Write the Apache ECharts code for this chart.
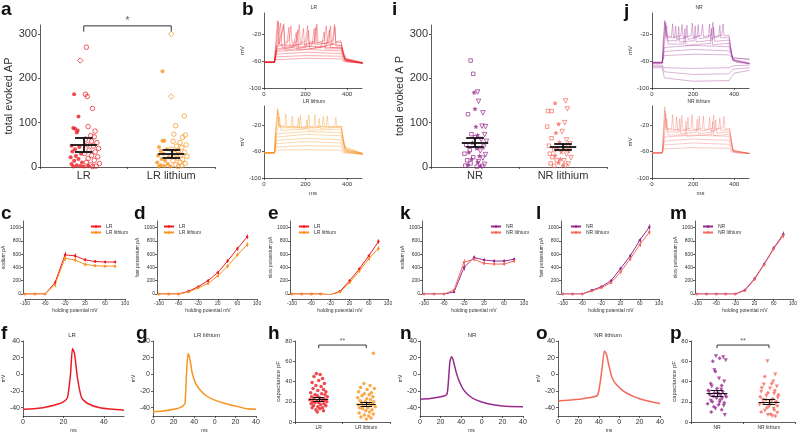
<!DOCTYPE html>
<html>
<head>
<meta charset="utf-8">
<script src="https://cdn.jsdelivr.net/npm/echarts@6/dist/echarts.min.js"></script>
<style>html,body{margin:0;background:#fff}#chart{width:800px;height:434px}</style>
</head>
<body>
<div id="chart"></div>
<script>
const RED = '#ec1c24', ORANGE = '#f7931e', PURPLE = '#962b8e', SALMON = '#f26a5c';
const FONT = '"Liberation Sans", Arial, sans-serif';
const STAR = 'path://M0,-1L0.29,-0.4L0.95,-0.31L0.48,0.15L0.59,0.81L0,0.5L-0.59,0.81L-0.48,0.15L-0.95,-0.31L-0.29,-0.4Z';

// ---- a: total evoked AP, [jitter, value]
const CAT_LR = ['LR', 'LR lithium'];
const CAT_NR = ['NR', 'NR lithium'];
const A_LR_FILLED = [[-0.11,164],[-0.06,114],[-0.1,86],[-0.07,82],[-0.08,78],[-0.12,88],[-0.14,48],[-0.05,45],[-0.1,40],[-0.13,35],[-0.03,30],[-0.09,25],[-0.15,22],[-0.06,18],[-0.11,14],[-0.02,10],[-0.14,7],[-0.08,4],[-0.04,2],[0.0,1],[-0.12,1],[0.05,3]];
const A_LR_OPEN = [[0.03,270],[0.02,164],[0.04,159],[0.1,132],[0.05,91],[0.13,81],[0.08,71],[0.12,68],[0.02,63],[0.09,58],[0.15,55],[0.04,50],[0.11,47],[0.17,42],[0.06,38],[0.13,34],[0.01,30],[0.09,26],[0.16,23],[0.05,19],[0.12,15],[0.03,11],[0.18,8],[0.08,5],[0.14,2],[0.1,1]];
const A_LR_DIAM = [[-0.04,240]];
const A_LRL_FILLED = [[-0.1,216],[-0.1,59],[-0.08,59],[-0.14,45],[-0.05,40],[-0.12,36],[-0.09,30],[-0.15,26],[-0.03,22],[-0.11,18],[-0.07,14],[-0.16,10],[-0.04,7],[-0.12,4],[-0.08,2],[-0.01,1],[-0.14,1]];
const A_LRL_OPEN = [[0.15,115],[0.05,93],[0.03,74],[0.16,72],[0.13,67],[0.02,58],[0.1,55],[0.17,50],[0.06,47],[0.12,44],[0.0,40],[0.08,37],[0.15,33],[0.04,30],[0.11,27],[0.18,24],[0.07,20],[0.13,17],[0.02,14],[0.1,11],[0.16,8],[0.05,5],[0.12,3],[0.08,1]];
const A_LRL_DIAM = [[0.0,300],[0.0,159]];
const A_ERR = [[50,34,66],[30,20,40]]; // mean, low, high

// ---- i: NR
const I_NR_SQ = [[-0.05,240],[-0.02,210],[-0.08,119],[-0.04,74],[0.0,67],[-0.1,50],[-0.06,38],[-0.12,30],[-0.02,22],[-0.09,15],[-0.05,8],[-0.11,3],[0.02,1]];
const I_NR_ST = [[-0.01,168],[0.0,131],[0.01,91],[0.03,72],[-0.03,55],[0.02,42],[-0.07,33],[0.05,25],[-0.04,18],[0.03,11],[-0.08,5],[0.06,2]];
const I_NR_TR = [[0.03,169],[0.04,148],[0.09,122],[0.08,92],[0.12,91],[0.11,73],[0.07,62],[0.13,58],[0.1,45],[0.06,36],[0.12,28],[0.09,20],[0.04,12],[0.11,6],[0.08,1]];
const I_NRL_SQ = [[-0.17,126],[-0.13,126],[-0.18,91],[-0.13,65],[-0.16,48],[-0.1,38],[-0.15,30],[-0.12,22],[-0.07,15],[-0.14,8],[-0.1,3]];
const I_NRL_ST = [[-0.09,144],[-0.05,97],[-0.08,77],[-0.04,56],[-0.06,43],[-0.02,34],[-0.09,26],[-0.03,18],[-0.05,10],[0.0,4]];
const I_NRL_TR = [[0.03,149],[0.05,131],[0.02,100],[-0.01,80],[0.04,61],[0.08,52],[0.02,45],[0.07,37],[0.04,29],[0.09,21],[0.01,14],[0.06,7],[0.03,2]];
const I_ERR = [[55,45,66],[46,40,53]];

// ---- b / j: voltage traces, [ms, mV]
const B_LR = [
  [[0,-62],[50,-62],[58,-58],[200,-56],[370,-57],[385,-61],[475,-63]],
  [[0,-62],[50,-62],[58,-54],[200,-52],[370,-53],[387,-60],[475,-63]],
  [[0,-62],[50,-62],[58,-50],[200,-47],[370,-49],[388,-59],[475,-63]],
  [[0,-62],[50,-62],[60,-46],[200,-43],[370,-45],[390,-58],[475,-63]],
  [[0,-62],[50,-62],[60,-42],[200,-38],[370,-41],[392,-57],[475,-63]],
  [[0,-61],[50,-61],[60,-38],[150,-36],[260,-33],[370,-37],[395,-56],[475,-62]],
  [[0,-62],[50,-62],[55,-40],[65,0],[70,-35],[80,-30],[95,-5],[100,-33],[120,-30],[130,-8],[135,-34],[160,-31],[170,-6],[175,-33],[200,-31],[210,-8],[215,-33],[245,-31],[255,-5],[260,-33],[290,-30],[300,-8],[305,-33],[330,-30],[340,-6],[345,-32],[370,-30],[385,-55],[400,-61],[475,-64]],
  [[0,-62],[50,-62],[58,-38],[70,-2],[75,-36],[110,-35],[120,-10],[125,-38],[180,-35],[190,-12],[195,-37],[240,-34],[250,-10],[255,-36],[310,-33],[320,-8],[325,-35],[360,-32],[372,-33],[388,-57],[475,-63]],
  [[0,-62],[50,-62],[60,-40],[80,-4],[86,-40],[150,-38],[162,-14],[167,-41],[230,-38],[242,-12],[247,-40],[330,-36],[342,-10],[347,-38],[372,-37],[390,-58],[475,-63]],
  [[0,-62],[50,-62],[62,-42],[95,-8],[101,-44],[200,-40],[215,-15],[220,-42],[300,-38],[315,-14],[320,-40],[372,-40],[392,-58],[475,-63]],
  [[0,-62],[50,-62],[62,-44],[140,-40],[155,-18],[160,-44],[275,-40],[290,-17],[295,-42],[372,-42],[392,-59],[475,-63]]
];
const B_LRL = [
  [[0,-62],[50,-62],[58,-58],[200,-57],[370,-58],[385,-62],[475,-64]],
  [[0,-62],[50,-62],[58,-53],[200,-51],[370,-52],[387,-61],[475,-64]],
  [[0,-62],[50,-62],[58,-48],[200,-45],[370,-47],[388,-60],[475,-64]],
  [[0,-62],[50,-62],[60,-43],[200,-40],[370,-42],[390,-59],[475,-64]],
  [[0,-62],[50,-62],[60,-38],[200,-34],[370,-36],[392,-58],[475,-63]],
  [[0,-62],[50,-62],[60,-33],[200,-30],[370,-31],[394,-57],[475,-63]],
  [[0,-62],[50,-62],[55,-30],[65,5],[70,-20],[100,-22],[105,-3],[110,-22],[170,-22],[175,-5],[180,-23],[240,-22],[245,-4],[250,-23],[300,-22],[305,-6],[310,-23],[360,-22],[372,-22],[385,-50],[400,-60],[475,-63]],
  [[0,-62],[50,-62],[56,-30],[67,3],[72,-22],[130,-23],[136,-6],[141,-24],[210,-23],[216,-5],[221,-24],[280,-22],[286,-7],[291,-23],[340,-22],[346,-8],[351,-23],[372,-22],[388,-52],[475,-63]],
  [[0,-62],[50,-62],[57,-32],[70,-2],[76,-24],[160,-24],[166,-9],[171,-25],[260,-24],[266,-10],[271,-25],[372,-23],[390,-55],[475,-63]],
  [[0,-62],[50,-62],[60,-34],[75,-8],[82,-28],[200,-26],[207,-12],[212,-28],[372,-26],[390,-56],[475,-63]]
];
const J_NR = [
  [[0,-66],[50,-66],[60,-70],[200,-71],[375,-70],[395,-67],[475,-66]],
  [[0,-68],[50,-68],[60,-76],[200,-80],[375,-79],[395,-72],[475,-70]],
  [[0,-70],[50,-70],[60,-85],[200,-90],[375,-89],[400,-78],[475,-74]],
  [[0,-62],[50,-62],[60,-52],[200,-50],[375,-51],[395,-56],[475,-57]],
  [[0,-62],[50,-62],[60,-46],[200,-43],[375,-45],[395,-55],[475,-58]],
  [[0,-62],[50,-62],[60,-40],[200,-37],[375,-39],[395,-58],[475,-63]],
  [[0,-63],[50,-63],[55,-30],[62,0],[68,-22],[95,-24],[100,-5],[105,-25],[140,-23],[146,-6],[151,-25],[190,-23],[196,-4],[201,-25],[240,-22],[246,-6],[251,-24],[290,-22],[296,-3],[301,-24],[340,-22],[346,-5],[351,-23],[375,-22],[390,-55],[410,-62],[475,-64]],
  [[0,-63],[50,-63],[56,-30],[64,-2],[70,-25],[110,-26],[115,-8],[120,-28],[165,-26],[170,-7],[175,-28],[220,-25],[225,-6],[230,-27],[275,-25],[280,-5],[285,-27],[325,-24],[330,-7],[335,-26],[375,-25],[392,-58],[475,-64]],
  [[0,-63],[50,-63],[58,-32],[67,-4],[74,-30],[125,-30],[130,-9],[135,-32],[205,-30],[210,-8],[215,-32],[295,-29],[300,-10],[305,-31],[375,-29],[393,-59],[475,-64]],
  [[0,-63],[50,-63],[60,-35],[72,-8],[78,-35],[155,-35],[160,-12],[165,-37],[285,-34],[290,-12],[295,-36],[375,-34],[395,-60],[475,-64]]
];
const J_NRL = [
  [[0,-62],[50,-62],[58,-56],[200,-54],[375,-55],[390,-61],[475,-63]],
  [[0,-62],[50,-62],[58,-50],[200,-47],[375,-49],[392,-60],[475,-63]],
  [[0,-62],[50,-62],[60,-44],[200,-41],[375,-43],[394,-59],[475,-63]],
  [[0,-62],[50,-62],[60,-38],[200,-35],[375,-37],[396,-58],[475,-63]],
  [[0,-62],[50,-62],[55,-30],[62,8],[68,-24],[95,-26],[100,-4],[105,-27],[140,-26],[145,-5],[150,-27],[190,-25],[195,-4],[200,-27],[245,-25],[250,-6],[255,-27],[295,-25],[300,-5],[305,-26],[345,-24],[350,-7],[355,-26],[378,-25],[392,-56],[410,-62],[475,-63]],
  [[0,-62],[50,-62],[56,-30],[64,2],[70,-26],[115,-28],[120,-7],[125,-29],[170,-28],[175,-8],[180,-29],[225,-27],[230,-6],[235,-29],[275,-27],[280,-8],[285,-29],[325,-26],[330,-9],[335,-28],[378,-27],[394,-58],[475,-63]],
  [[0,-62],[50,-62],[58,-33],[67,-3],[74,-30],[130,-31],[135,-10],[140,-33],[215,-31],[220,-11],[225,-33],[305,-30],[310,-12],[315,-32],[378,-30],[395,-59],[475,-63]],
  [[0,-62],[50,-62],[60,-36],[72,-10],[78,-35],[160,-35],[165,-14],[170,-37],[290,-34],[295,-15],[300,-36],[378,-34],[396,-60],[475,-63]]
];

// ---- c..m: current vs holding potential
const HOLD = [-100,-80,-60,-40,-20,0,20,40,60,80];
const C_LR  = [0,0,0,170,590,575,515,490,482,482];
const C_LRL = [0,0,0,140,538,513,446,426,420,420];
const C_SEM = [0,0,0,40,45,35,25,20,20,20];
const D_LR  = [0,0,0,40,110,200,323,497,682,862];
const D_LRL = [0,0,0,30,90,160,272,420,590,744];
const D_SEM = [0,0,0,10,15,20,25,30,30,35];
const E_LR  = [0,0,0,0,-10,40,200,375,575,790];
const E_LRL = [0,0,0,0,-10,30,170,345,530,685];
const E_SEM = [0,0,0,0,5,10,20,25,30,35];
const K_NR  = [0,0,0,30,400,550,513,497,497,523];
const K_NRL = [0,0,0,60,480,523,462,451,451,497];
const K_SEM = [0,0,0,15,45,30,25,25,25,25];
const L_NR  = [0,0,0,55,110,200,385,574,810,1010];
const L_NRL = [0,0,0,45,95,170,333,528,744,933];
const L_SEM = [0,0,0,10,15,20,25,30,35,40];
const M_NR  = [0,0,0,0,0,60,230,450,690,900];
const M_NRL = [0,0,0,0,0,50,220,440,680,880];
const M_SEM = [0,0,0,0,5,10,20,25,30,40];

// ---- f, g, n, o: single action potentials [ms, mV]
const F_LR  = [[0,-42],[10,-40],[17,-36],[20,-33],[22,-28],[23.5,0],[24.5,31],[25.5,25],[27,-5],[29,-28],[32,-35],[38,-40],[45,-42],[50,-43]];
const G_LRL = [[0,-45],[10,-44],[20,-42],[28,-39],[31,-35],[32.5,0],[34,25],[35.5,20],[38,2],[41,-10],[46,-19],[52,-26],[60,-31],[70,-35],[80,-38],[90,-41],[100,-42]];
const N_NR  = [[0,-30],[10,-29],[20,-27],[26,-24],[27.5,-10],[29,15],[30.5,21],[32,18],[35,3],[38,-8],[42,-18],[48,-26],[55,-31],[65,-35],[80,-38],[100,-39]];
const O_NRL = [[0,-32],[10,-31],[20,-30],[30,-28],[38,-26],[40,-20],[43,5],[45.5,28],[47.5,24],[50,10],[53,-4],[57,-12],[62,-18],[68,-23],[75,-27],[85,-31],[100,-35]];

// ---- h, p: capacitance pF
const H_LR = [[-0.05,48],[0.03,47],[-0.1,45],[0.08,43],[0.0,41],[-0.14,39],[0.12,38],[-0.06,36],[0.05,35],[-0.12,33],[0.1,32],[-0.02,31],[0.15,30],[-0.17,29],[0.06,28],[-0.08,27],[0.13,27],[-0.03,26],[0.18,25],[-0.15,25],[0.02,24],[-0.1,23],[0.09,23],[-0.19,22],[0.14,22],[-0.04,21],[0.07,21],[-0.13,20],[0.17,20],[0.0,19],[-0.08,19],[0.11,18],[-0.16,18],[0.04,17],[-0.11,16],[0.15,16],[-0.02,15],[0.08,14],[-0.14,14],[0.02,13],[-0.06,12],[0.1,11],[-0.03,10]];
const H_LRL = [[0.15,68],[-0.05,38],[0.08,36],[-0.12,34],[0.17,33],[0.02,32],[-0.16,30],[0.11,29],[-0.04,28],[0.06,27],[-0.09,26],[0.14,25],[-0.18,24],[0.01,23],[0.09,22],[-0.13,21],[0.16,20],[-0.02,20],[-0.1,19],[0.05,18],[0.13,18],[-0.17,17],[-0.06,16],[0.1,16],[0.19,15],[-0.14,14],[0.03,14],[-0.08,13],[0.12,12],[-0.01,11],[0.07,10],[-0.15,9],[0.15,8],[-0.04,7],[0.05,6],[-0.11,5],[0.1,4],[0.0,3]];
const H_ERR = [[22.5,20.5,24.5],[18,16,20]];
const P_NR_T = [[-0.02,65],[0.12,64],[0.17,61],[-0.05,51],[0.04,43],[0.14,40],[-0.1,35],[0.08,32],[-0.15,30],[0.02,28],[0.16,26],[-0.07,25],[0.1,23],[-0.12,21],[0.05,19],[0.13,16],[-0.03,13],[0.15,7]];
const P_NR_D = [[0.05,63],[-0.08,60],[-0.03,50],[-0.12,38],[0.09,36],[0.0,33],[-0.17,31],[0.11,30],[-0.05,29],[0.07,27],[-0.14,27],[0.18,25],[-0.01,24],[0.06,22],[-0.09,20],[0.14,19],[-0.18,18],[0.03,17],[-0.06,15],[0.09,12],[-0.11,10]];
const P_NRL_T = [[-0.03,60],[0.12,47],[0.08,40],[-0.1,37],[0.15,35],[0.02,33],[-0.15,30],[0.1,28],[-0.05,26],[0.17,24],[-0.12,22],[0.05,21],[0.13,19],[-0.18,17],[0.0,15],[0.09,13],[-0.08,11],[0.16,9],[-0.02,7],[0.06,6]];
const P_NRL_D = [[-0.08,45],[0.05,38],[-0.14,34],[0.11,31],[-0.02,29],[0.18,27],[-0.17,25],[0.07,23],[-0.06,22],[0.14,20],[-0.11,19],[0.02,18],[0.16,16],[-0.04,14],[0.1,12],[-0.15,10],[0.03,8],[0.12,6]];
const P_ERR = [[28,25,31],[20,18,22]];

const option = {animation: false, backgroundColor: '#fff', textStyle: {fontFamily: FONT},
  grid: [], xAxis: [], yAxis: [], series: [], legend: [], graphic: []};

function addGrid(left, top, width, height) {
  option.grid.push({left, top, width, height, containLabel: false});
  return option.grid.length - 1;
}
function axis(fs, o) {
  const a = {type: 'value', nameLocation: 'middle', splitLine: {show: false},
    axisLine: {show: true, onZero: false, lineStyle: {color: '#333', width: 0.8}},
    axisTick: {show: true, length: 2, lineStyle: {color: '#333', width: 0.8}},
    axisLabel: {fontSize: fs, color: '#333', margin: 3, fontFamily: FONT, formatter: v => String(v)},
    nameTextStyle: {fontSize: fs, color: '#333', fontFamily: FONT}};
  for (const k in o) {
    if (a[k] && typeof a[k] === 'object' && !Array.isArray(a[k])) Object.assign(a[k], o[k]);
    else a[k] = o[k];
  }
  return a;
}
function text(x, y, str, size, opts) {
  option.graphic.push({type: 'text', x, y, silent: true,
    style: Object.assign({text: str, fontSize: size, fontFamily: FONT, fill: '#333', align: 'center', verticalAlign: 'middle'}, opts || {})});
}

// dot-plot panel (a, i, h, p)
function dotPanel(g, cats, ymax, ticks, yName, fs, catFs, nameGap) {
  option.xAxis.push(axis(catFs, {type: 'category', gridIndex: g, data: cats, axisLabel: {fontSize: catFs}}));
  const xv = option.xAxis.push({type: 'value', gridIndex: g, min: -0.5, max: 1.5, show: false}) - 1;
  const y = option.yAxis.push(axis(fs, {gridIndex: g, min: 0, max: ymax, name: yName, nameGap: nameGap,
    axisLabel: {customValues: ticks}, axisTick: {customValues: ticks}})) - 1;
  return {xv, y};
}
function dots(ax, grp, pts, sym, color, open, size, rot) {
  option.series.push({type: 'scatter', xAxisIndex: ax.xv, yAxisIndex: ax.y, symbol: sym, symbolSize: size,
    symbolRotate: rot || 0, clip: false, silent: true,
    data: pts.map(p => [grp + p[0], p[1]]),
    itemStyle: open ? {color: 'rgba(0,0,0,0)', borderColor: color, borderWidth: 0.9} : {color: color}});
}
function errBar(ax, grp, e, wMean, wCap, lw) {
  option.series.push({type: 'lines', coordinateSystem: 'cartesian2d', xAxisIndex: ax.xv, yAxisIndex: ax.y,
    silent: true, z: 5, lineStyle: {color: '#111', width: lw, opacity: 1},
    data: [{coords: [[grp - wMean, e[0]], [grp + wMean, e[0]]]},
           {coords: [[grp - wCap, e[1]], [grp + wCap, e[1]]]},
           {coords: [[grp - wCap, e[2]], [grp + wCap, e[2]]]},
           {coords: [[grp, e[1]], [grp, e[2]]]}]});
}
function bracket(ax, y0, y1, mark, fs) {
  option.series.push({type: 'lines', coordinateSystem: 'cartesian2d', xAxisIndex: ax.xv, yAxisIndex: ax.y,
    polyline: true, silent: true, clip: false, lineStyle: {color: '#333', width: 1, opacity: 1},
    data: [{coords: [[0, y0], [0, y1], [1, y1], [1, y0]]}]});
  option.series.push({type: 'scatter', xAxisIndex: ax.xv, yAxisIndex: ax.y, symbolSize: 0, clip: false, silent: true,
    data: [[0.5, y1]], label: {show: true, formatter: mark, position: 'top', distance: 0, fontSize: fs, color: '#333'}});
}

// trace panel (b, j)
function tracePanel(g, ymax, traces, color, xName) {
  const x = option.xAxis.push(axis(6, {gridIndex: g, min: 0, max: 472, name: xName, nameGap: 12,
    axisLabel: {customValues: [0, 200, 400]}, axisTick: {customValues: [0, 200, 400]}})) - 1;
  const y = option.yAxis.push(axis(6, {gridIndex: g, min: -100, max: ymax, name: 'mV', nameGap: 16,
    axisLabel: {customValues: [-100, -60, -20]}, axisTick: {customValues: [-100, -60, -20]}})) - 1;
  traces.forEach(t => option.series.push({type: 'line', xAxisIndex: x, yAxisIndex: y, data: t, showSymbol: false,
    silent: true, lineStyle: {color: color, width: 0.6, opacity: 0.6}}));
}

// I-V panel (c, d, e, k, l, m)
function ivPanel(g, yName, s1, s2, sem, names, colors, legLeft) {
  const ticks = [-100, -60, -20, 20, 60, 100];
  const x = option.xAxis.push(axis(5, {gridIndex: g, min: -100, max: 100, offset: 5, name: 'holding potential mV', nameGap: 9,
    axisLabel: {customValues: ticks, margin: 2}, axisTick: {customValues: ticks}})) - 1;
  const yt = [0, 200, 400, 600, 800, 1000];
  const y = option.yAxis.push(axis(5, {gridIndex: g, min: 0, max: 1100, offset: 2, name: yName, nameGap: 15,
    axisLabel: {customValues: yt, margin: 2}, axisTick: {customValues: yt}})) - 1;
  [s1, s2].forEach((s, k) => {
    option.series.push({type: 'line', name: names[k], xAxisIndex: x, yAxisIndex: y, symbol: 'circle', symbolSize: 2.5,
      data: HOLD.map((h, i) => [h, s[i]]), itemStyle: {color: colors[k]}, lineStyle: {color: colors[k], width: 1}});
    option.series.push({type: 'lines', coordinateSystem: 'cartesian2d', xAxisIndex: x, yAxisIndex: y, silent: true,
      lineStyle: {color: colors[k], width: 0.8, opacity: 1},
      data: HOLD.filter((h, i) => sem[i] > 0).map(h => {
        const i = HOLD.indexOf(h);
        return {coords: [[h, s[i] - sem[i]], [h, s[i] + sem[i]]]};
      })});
  });
  option.legend.push({left: legLeft, top: 224, orient: 'vertical', itemWidth: 10, itemHeight: 3, itemGap: 1, padding: 0,
    selectedMode: false, textStyle: {fontSize: 5, color: '#333', fontFamily: FONT}, data: names});
}

// AP panel (f, g, n, o)
function apPanel(g, xmax, data, color, twice) {
  const xt = twice ? [0, 20, 40, 60, 80, 100] : [0, 20, 40];
  const x = option.xAxis.push(axis(7, {gridIndex: g, min: 0, max: xmax, name: 'ms', nameGap: 12,
    axisLabel: {customValues: xt, formatter: v => String(v >= 60 ? v - 60 : v)}, axisTick: {customValues: xt},
    nameTextStyle: {fontSize: 5}})) - 1;
  const yt = [-40, -20, 0, 20, 40];
  const y = option.yAxis.push(axis(7, {gridIndex: g, min: -50, max: 40, name: 'mV', nameGap: 15,
    axisLabel: {customValues: yt}, axisTick: {customValues: yt}, nameTextStyle: {fontSize: 5}})) - 1;
  option.series.push({type: 'line', xAxisIndex: x, yAxisIndex: y, data: data, showSymbol: false, smooth: 0.2,
    silent: true, lineStyle: {color: color, width: 1.5}});
}

// ---------- row 1
const gA = addGrid(40, 25, 175, 142);
const axA = dotPanel(gA, CAT_LR, 320, [0, 100, 200, 300], 'total evoked AP', 11, 11, 25);
dots(axA, 0, A_LR_FILLED, 'circle', RED, false, 4);
dots(axA, 0, A_LR_OPEN, 'circle', RED, true, 4.5);
dots(axA, 0, A_LR_DIAM, 'diamond', RED, true, 5.5);
dots(axA, 1, A_LRL_FILLED, 'circle', ORANGE, false, 4);
dots(axA, 1, A_LRL_OPEN, 'circle', ORANGE, true, 4.5);
dots(axA, 1, A_LRL_DIAM, 'diamond', ORANGE, true, 5.5);
errBar(axA, 0, A_ERR[0], 0.15, 0.1, 1.8);
errBar(axA, 1, A_ERR[1], 0.15, 0.1, 1.8);
bracket(axA, 305, 318, '*', 10);

const gI = addGrid(431, 25, 176, 142);
const axI = dotPanel(gI, CAT_NR, 320, [0, 100, 200, 300], 'total evoked A P', 11, 11, 25);
dots(axI, 0, I_NR_SQ, 'rect', PURPLE, true, 3.5);
dots(axI, 0, I_NR_ST, STAR, PURPLE, false, 5);
dots(axI, 0, I_NR_TR, 'triangle', PURPLE, true, 4.5, 180);
dots(axI, 1, I_NRL_SQ, 'rect', SALMON, true, 3.5);
dots(axI, 1, I_NRL_ST, STAR, SALMON, false, 5);
dots(axI, 1, I_NRL_TR, 'triangle', SALMON, true, 4.5, 180);
errBar(axI, 0, I_ERR[0], 0.15, 0.1, 1.8);
errBar(axI, 1, I_ERR[1], 0.15, 0.1, 1.8);

tracePanel(addGrid(264, 13, 98, 75), 11, B_LR, RED, '');
tracePanel(addGrid(264, 106, 98, 72), 9, B_LRL, ORANGE, 'ms');
tracePanel(addGrid(652, 13, 97, 75), 11, J_NR, PURPLE, '');
tracePanel(addGrid(652, 106, 97, 72), 9, J_NRL, SALMON, 'ms');
text(314, 8, 'LR', 5); text(314, 102, 'LR lithium', 5);
text(699, 8, 'NR', 5); text(699, 102, 'NR lithium', 5);

// ---------- row 2
ivPanel(addGrid(24, 221, 101, 73), 'sodium pA', C_LR, C_LRL, C_SEM, ['LR', 'LR lithium'], [RED, ORANGE], 90);
ivPanel(addGrid(159, 221, 98, 73), 'fast potassium pA', D_LR, D_LRL, D_SEM, ['LR', 'LR lithium'], [RED, ORANGE], 163);
ivPanel(addGrid(292, 221, 96, 73), 'slow potassium pA', E_LR, E_LRL, E_SEM, ['LR', 'LR lithium'], [RED, ORANGE], 298);
ivPanel(addGrid(424, 221, 100, 73), 'sodium pA', K_NR, K_NRL, K_SEM, ['NR', 'NR lithium'], [PURPLE, SALMON], 490);
ivPanel(addGrid(563, 221, 96, 73), 'fast potassium pA', L_NR, L_NRL, L_SEM, ['NR', 'NR lithium'], [PURPLE, SALMON], 570);
ivPanel(addGrid(697, 221, 98, 73), 'slow potassium pA', M_NR, M_NRL, M_SEM, ['NR', 'NR lithium'], [PURPLE, SALMON], 702);

// ---------- row 3
apPanel(addGrid(21, 341, 103, 76), 50, F_LR, RED, false);
apPanel(addGrid(153, 341, 103, 76), 100, G_LRL, ORANGE, true);
apPanel(addGrid(420, 341, 103, 76), 100, N_NR, PURPLE, true);
apPanel(addGrid(558, 341, 102, 76), 100, O_NRL, SALMON, true);
text(72, 335, 'LR', 6); text(207, 335, 'LR lithium', 6);
text(472, 335, 'NR', 6); text(608, 335, 'NR lithium', 6);

const gH = addGrid(295, 341, 95, 81);
const axH = dotPanel(gH, CAT_LR, 80, [0, 20, 40, 60, 80], 'capacitance pF', 6, 5, 14);
dots(axH, 0, H_LR, 'circle', RED, false, 3.5);
dots(axH, 1, H_LRL, 'circle', ORANGE, false, 3.5);
errBar(axH, 0, H_ERR[0], 0.2, 0.12, 1.2);
errBar(axH, 1, H_ERR[1], 0.2, 0.12, 1.2);
bracket(axH, 73, 76, '**', 7);

const gP = addGrid(691, 341, 104, 81);
const axP = dotPanel(gP, CAT_NR, 80, [0, 20, 40, 60, 80], 'capacitance pF', 6, 5, 14);
dots(axP, 0, P_NR_T, 'triangle', PURPLE, false, 4, 180);
dots(axP, 0, P_NR_D, 'diamond', PURPLE, false, 4);
dots(axP, 1, P_NRL_T, 'triangle', SALMON, false, 4, 180);
dots(axP, 1, P_NRL_D, 'diamond', SALMON, false, 4);
errBar(axP, 0, P_ERR[0], 0.2, 0.12, 1.2);
errBar(axP, 1, P_ERR[1], 0.2, 0.12, 1.2);
bracket(axP, 73, 76, '**', 7);

// panel letters
[['a', 1, 0], ['b', 242, 0], ['i', 392, 0], ['j', 624, 2],
 ['c', 1, 204], ['d', 134, 204], ['e', 268, 204], ['k', 400, 204], ['l', 536, 204], ['m', 670, 204],
 ['f', 1, 324], ['g', 136, 324], ['h', 268, 324], ['n', 400, 324], ['o', 536, 324], ['p', 670, 324]
].forEach(([t, x, y]) => text(x, y, t, 19, {fontWeight: 'bold', fill: '#111', align: 'left', verticalAlign: 'top'}));

const chart = echarts.init(document.getElementById('chart'));
chart.setOption(option);
window.addEventListener('resize', () => chart.resize());
</script>
</body>
</html>
